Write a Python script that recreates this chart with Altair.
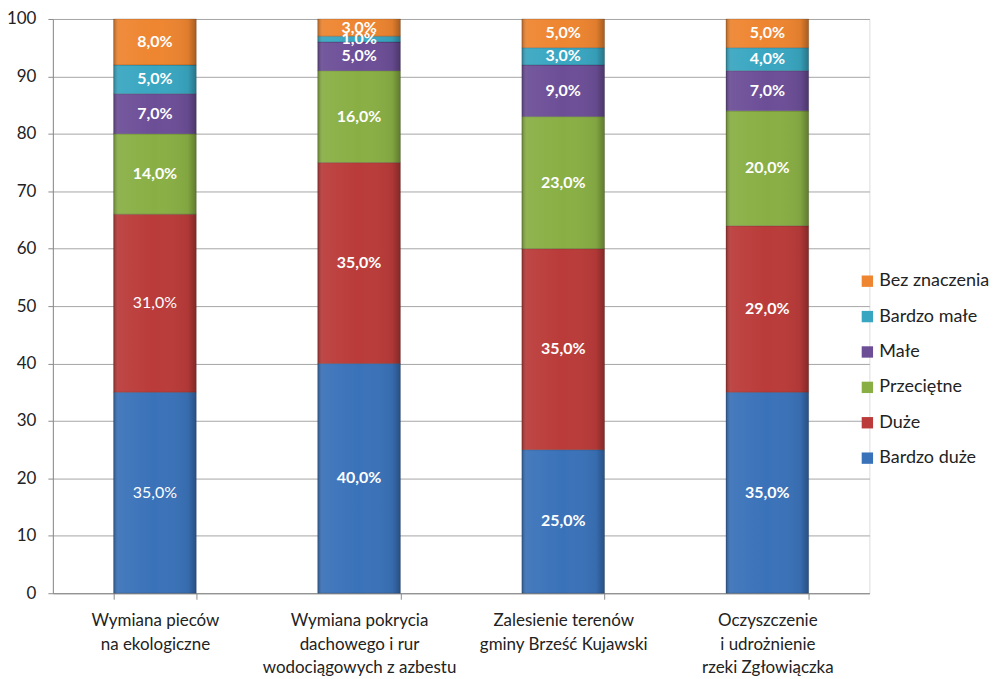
import altair as alt
import pandas as pd

categories = [
    "Wymiana pieców|na ekologiczne",
    "Wymiana pokrycia|dachowego i rur|wodociągowych z azbestu",
    "Zalesienie terenów|gminy Brześć Kujawski",
    "Oczyszczenie|i udrożnienie|rzeki Zgłowiączka",
]
# bottom-to-top stacking order
series = ["Bardzo duże", "Duże", "Przeciętne", "Małe", "Bardzo małe", "Bez znaczenia"]
bardzo_duze = [35, 40, 25, 35]
duze = [31, 35, 35, 29]
przecietne = [14, 16, 23, 20]
male = [7, 5, 9, 7]
bardzo_male = [5, 1, 3, 4]
bez_znaczenia = [8, 3, 5, 5]
colors = ["#3A72B9", "#BA3B39", "#89AF44", "#6C4E97", "#39A6C1", "#EE8530"]

values = [bardzo_duze, duze, przecietne, male, bardzo_male, bez_znaczenia]
rows = []
for si, (s, vals) in enumerate(zip(series, values)):
    for c, v in zip(categories, vals):
        rows.append({"cat": c, "series": s, "value": v, "ord": si})
df = pd.DataFrame(rows)

FONT = "Lato"
legend_domain = list(reversed(series))
legend_range = list(reversed(colors))

base = alt.Chart(df).transform_stack(
    stack="value", groupby=["cat"], as_=["y0", "y1"],
    sort=[alt.SortField(field="ord", order="ascending")],
).transform_calculate(
    mid="(datum.y0 + datum.y1) / 2",
    label="replace(format(datum.value, '.1f'), '.', ',') + '%'",
)

x_enc = alt.X(
    "cat:N", sort=categories, title=None,
    scale=alt.Scale(paddingInner=0.595, paddingOuter=0.2975),
    axis=alt.Axis(
        labelExpr="split(datum.label, '|')", labelAngle=0, labelLimit=400,
        labelFont=FONT, labelFontSize=17, labelColor="#222222",
        labelLineHeight=24, labelPadding=13, labelBaseline="top",
        tickBand="extent", tickSize=6, tickColor="#8c8c8c",
        domainColor="#8c8c8c", grid=False,
    ),
)
y_enc = alt.Y(
    "y0:Q", title=None,
    scale=alt.Scale(domain=[0, 100], nice=False),
    axis=alt.Axis(
        values=list(range(0, 101, 10)), labelFont=FONT, labelFontSize=17,
        labelColor="#222222", tickSize=5, labelPadding=12, tickColor="#8c8c8c",
        domainColor="#8c8c8c", gridColor="#a6a6a6", gridWidth=1,
    ),
)

bars = base.mark_bar(stroke="#000000", strokeOpacity=0.18, strokeWidth=1).encode(
    x=x_enc,
    y=y_enc,
    y2="y1:Q",
    color=alt.Color(
        "series:N",
        scale=alt.Scale(domain=legend_domain, range=legend_range),
        legend=alt.Legend(
            title=None, orient="none", legendX=808, legendY=254,
            symbolType="square", symbolSize=130, symbolStrokeWidth=0,
            labelFont=FONT, labelFontSize=18, labelColor="#222222",
            rowPadding=17.5, labelOffset=3,
        ),
    ),
)

shade = alt.LinearGradient(
    gradient="linear", x1=0, x2=1, y1=0, y2=0,
    stops=[
        alt.GradientStop(color="rgba(0,0,0,0.28)", offset=0),
        alt.GradientStop(color="rgba(255,255,255,0.06)", offset=0.07),
        alt.GradientStop(color="rgba(255,255,255,0.0)", offset=0.5),
        alt.GradientStop(color="rgba(0,0,0,0.06)", offset=0.9),
        alt.GradientStop(color="rgba(0,0,0,0.3)", offset=1),
    ],
)
overlay = base.mark_bar(fill=shade).encode(
    x=alt.X("cat:N", sort=categories),
    y="y0:Q",
    y2="y1:Q",
)

plain_test = (
    f"datum.cat == '{categories[0]}' && "
    "(datum.series == 'Bardzo duże' || datum.series == 'Duże')"
)
labels_bold = base.transform_filter(f"!({plain_test})").mark_text(
    font=FONT, fontSize=16, color="white", fontWeight="bold"
).encode(
    x=alt.X("cat:N", sort=categories),
    y="mid:Q",
    text="label:N",
)
labels_plain = base.transform_filter(plain_test).mark_text(
    font=FONT, fontSize=16, color="white", fontWeight="normal"
).encode(
    x=alt.X("cat:N", sort=categories),
    y="mid:Q",
    text="label:N",
)

chart = alt.layer(bars, overlay, labels_bold, labels_plain).properties(
    width=819, height=576,
    padding={"left": 45, "top": 10, "right": 122, "bottom": 82},
    autosize=alt.AutoSizeParams(type="none"),
).configure_view(stroke=None).configure(background="white")

chart.save("out.html", embed_options={"renderer": "svg", "actions": False})
